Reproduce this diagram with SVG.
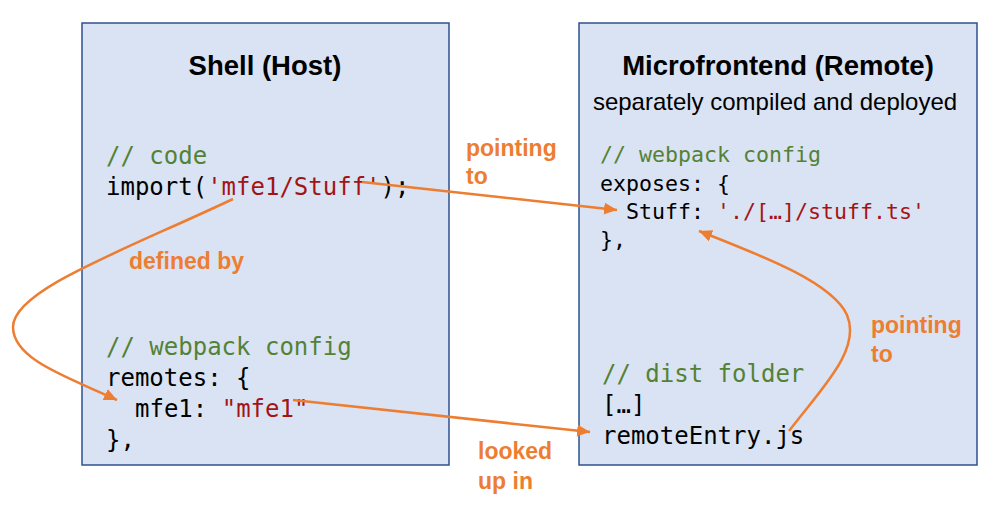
<svg xmlns="http://www.w3.org/2000/svg" width="1002" height="516" viewBox="0 0 1002 516">
<style>
.box{fill:#DAE3F3;stroke:#2F528F;stroke-width:1.5}
.title{font-family:"Liberation Sans",Arial,sans-serif;font-weight:bold;font-size:27.5px;fill:#000;text-anchor:middle}
.sub{font-family:"Liberation Sans",Arial,sans-serif;font-size:24px;fill:#000;text-anchor:middle}
.code{font-family:"DejaVu Sans Mono","Liberation Mono",monospace;font-size:24px;fill:#000}
.code2{font-family:"DejaVu Sans Mono","Liberation Mono",monospace;font-size:21.6px;fill:#000}
.c{fill:#548235}
.s{fill:#A31515}
.lbl{font-family:"Liberation Sans",Arial,sans-serif;font-weight:bold;font-size:23px;fill:#ED7D31}
.conn{fill:none;stroke:#ED7D31;stroke-width:2.5;marker-end:url(#arr)}
</style>
<defs>
<marker id="arr" markerUnits="userSpaceOnUse" markerWidth="14" markerHeight="12" refX="13" refY="6" orient="auto">
<path d="M0,0 L13,6 L0,12 z" fill="#ED7D31"/>
</marker>
</defs>
<g id="shell">
<rect class="box" x="82" y="23" width="367" height="442"/>
<text class="title" x="265" y="75">Shell (Host)</text>
<text class="code" x="106" y="164"><tspan class="c">// code</tspan></text>
<text class="code" x="106" y="195">import(<tspan class="s">'mfe1/Stuff'</tspan>);</text>
<text class="code" x="106" y="355"><tspan class="c">// webpack config</tspan></text>
<text class="code" x="106" y="386">remotes: {</text>
<text class="code" x="135" y="417">mfe1: <tspan class="s">"mfe1"</tspan></text>
<text class="code" x="106" y="448">},</text>
</g>
<g id="remote">
<rect class="box" x="579" y="23" width="398" height="442"/>
<text class="title" x="778" y="75">Microfrontend (Remote)</text>
<text class="sub" x="775" y="110">separately compiled and deployed</text>
<text class="code2" x="600" y="162"><tspan class="c">// webpack config</tspan></text>
<text class="code2" x="600" y="191">exposes: {</text>
<text class="code2" x="626" y="219">Stuff: <tspan class="s">'./[…]/stuff.ts'</tspan></text>
<text class="code2" x="600" y="247">},</text>
<text class="code" x="602" y="382"><tspan class="c">// dist folder</tspan></text>
<text class="code" x="602" y="413">[…]</text>
<text class="code" x="602" y="444">remoteEntry.js</text>
</g>
<g id="connectors">
<path class="conn" d="M362,182 L617,210"/>
<path class="conn" d="M233,199 C123,251 13,290 13,327 C13,360 70,378 117,400"/>
<path class="conn" d="M293,400 L590,432"/>
<path class="conn" d="M789,431 C820,390 862,350 847,315 C832,282 760,255 699,231"/>
</g>
<g id="labels">
<text class="lbl" x="466" y="156">pointing</text>
<text class="lbl" x="466" y="184">to</text>
<text class="lbl" x="129" y="269">defined by</text>
<text class="lbl" x="871" y="333">pointing</text>
<text class="lbl" x="871" y="362">to</text>
<text class="lbl" x="478" y="459">looked</text>
<text class="lbl" x="478" y="489">up in</text>
</g>
</svg>
